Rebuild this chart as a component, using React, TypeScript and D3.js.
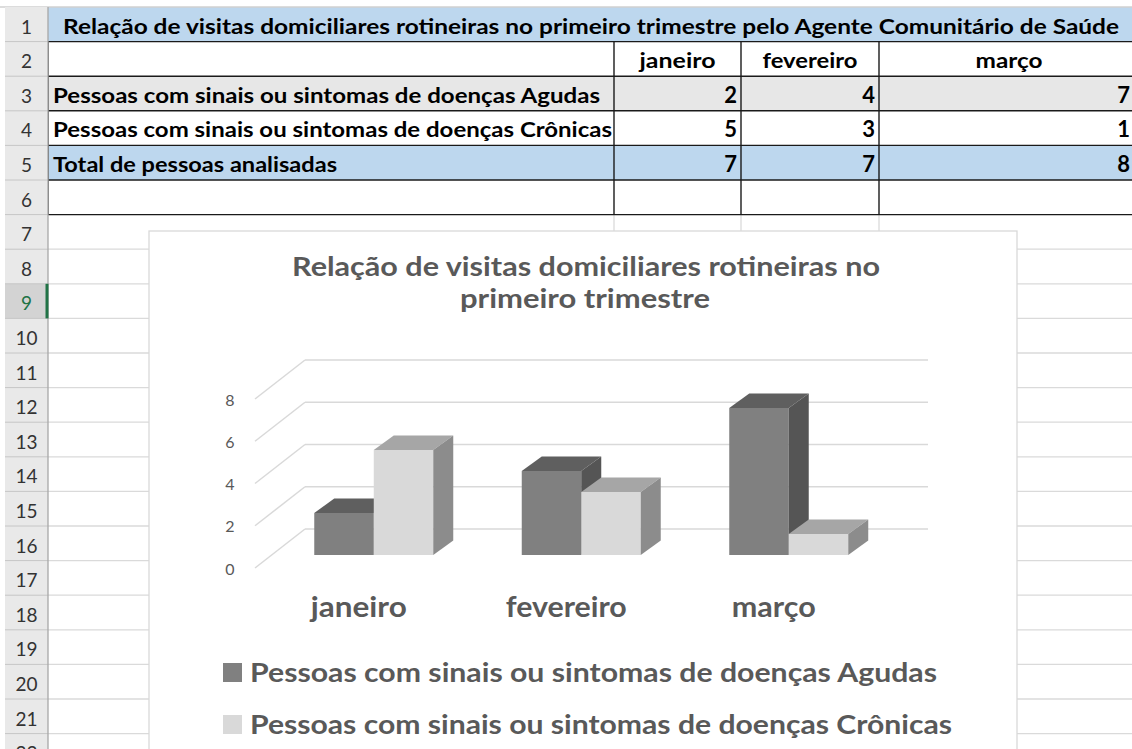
import React from 'react';
import * as d3 from 'd3';

// ---------- data ----------
const months = ['janeiro', 'fevereiro', 'março'];
const agudas = [2, 4, 7];
const cronicas = [5, 3, 1];
const totals = [7, 7, 8];
const seriesNames = [
  'Pessoas com sinais ou sintomas de doenças Agudas',
  'Pessoas com sinais ou sintomas de doenças Crônicas',
];
const rowLabels = ['Pessoas com sinais ou sintomas de doenças Agudas', 'Pessoas com sinais ou sintomas de doenças Crônicas', 'Total de pessoas analisadas'];
const sheetTitle = 'Relação de visitas domiciliares rotineiras no primeiro trimestre pelo Agente Comunitário de Saúde';
const chartTitle = ['Relação de visitas domiciliares rotineiras no', 'primeiro trimestre'];
const yTicks = [0, 2, 4, 6, 8];
const rowNumbers = d3.range(1, 23);

// ---------- styling / layout ----------
const W = 1132;
const H = 749;
const FONT = "Lato, 'Open Sans', 'Noto Sans', sans-serif";
const rowTop = 7;
const rowH = 34.6;
const headerX0 = 5;
const headerX1 = 48;
const colEdges = [48, 614, 741, 879, 1139];
const numRight = [737, 875, 1130];
const monthHeaderLen = [76, 95, 67];
const rowLabelLen = [547, 559, 284];

const chartBox = { x: 149, y: 231, w: 868 };
const seriesFront = ['#808080', '#d9d9d9'];
const seriesTop = ['#5f5f5f', '#a6a6a6'];
const seriesSide = ['#555555', '#8c8c8c'];
const legendLen = [687, 702];
const catLabelLen = [96, 121, 84];

export default function App() {
  const rowY = (i: number) => rowTop + rowH * i; // top of row i (0-based)

  // 3D chart scales
  const yBack = d3.scaleLinear().domain([0, 8]).range([529, 360]);
  const wallDepth = { dx: 50, dy: -39 }; // front edge -> back wall
  const yBar = d3.scaleLinear().domain([0, 8]).range([555, 555 - 8 * 21]);
  const barDepth = { dx: 20, dy: -14.5 };
  const xBand = d3.scaleBand<string>().domain(months).range([270, 892.5]).paddingInner(0.4265).paddingOuter(0.2133);
  const xSub = d3.scaleBand<number>().domain([0, 1]).range([0, xBand.bandwidth()]);
  const wallX0 = 305;
  const wallX1 = 928;
  const series = [agudas, cronicas];

  return (
    <svg width={W} height={H} style={{ position: 'absolute', left: 0, top: 0, background: '#fff' }} fontFamily={FONT}>
      <rect x={0} y={0} width={W} height={H} fill="#ffffff" />

      {/* sheet: row fills */}
      <rect x={headerX1} y={rowY(0)} width={W - headerX1} height={rowH} fill="#bdd7ee" />
      <rect x={headerX1} y={rowY(2)} width={W - headerX1} height={rowH} fill="#e7e7e7" />
      <rect x={headerX1} y={rowY(4)} width={W - headerX1} height={rowH} fill="#bdd7ee" />

      {/* light gridlines below the table */}
      {rowNumbers.slice(6).map((n) => (
        <line key={'g' + n} x1={headerX1} x2={W} y1={rowY(n)} y2={rowY(n)} stroke="#dadada" strokeWidth={1.3} />
      ))}
      <line x1={0} x2={W} y1={rowTop} y2={rowTop} stroke="#d0d0d0" strokeWidth={1.3} />
      {colEdges.slice(1, 4).map((x) => (
        <line key={'vg' + x} x1={x} x2={x} y1={rowY(6)} y2={chartBox.y} stroke="#dadada" strokeWidth={1.3} />
      ))}

      {/* table borders */}
      {[1, 2, 3, 4, 5, 6].map((i) => (
        <line key={'hb' + i} x1={headerX1} x2={W} y1={rowY(i)} y2={rowY(i)} stroke="#1a1a1a" strokeWidth={1.4} />
      ))}
      {colEdges.slice(0, 4).map((x) => (
        <line key={'vb' + x} x1={x} x2={x} y1={rowY(1)} y2={rowY(6)} stroke="#1a1a1a" strokeWidth={1.4} />
      ))}

      {/* table text */}
      <text x={63} y={rowY(1) - 8} fontSize={21} fontWeight={700} fill="#000" textLength={1056} lengthAdjust="spacingAndGlyphs">
        {sheetTitle}
      </text>
      {months.map((m, i) => {
        const cx = (colEdges[i + 1] + colEdges[i + 2]) / 2;
        return (
          <text key={'mh' + m} x={cx - monthHeaderLen[i] / 2} y={rowY(2) - 8} fontSize={21} fontWeight={700} fill="#000" textLength={monthHeaderLen[i]} lengthAdjust="spacingAndGlyphs">
            {m}
          </text>
        );
      })}
      {rowLabels.map((l, r) => (
        <text key={'rl' + r} x={53} y={rowY(r + 3) - 8} fontSize={21} fontWeight={700} fill="#000" textLength={rowLabelLen[r]} lengthAdjust="spacingAndGlyphs">
          {l}
        </text>
      ))}
      {[agudas, cronicas, totals].map((vals, r) =>
        vals.map((v, c) => (
          <text key={'n' + r + c} x={numRight[c]} y={rowY(r + 3) - 8} fontSize={22} fontWeight={700} fill="#000" textAnchor="end">
            {v}
          </text>
        ))
      )}

      {/* row header column */}
      <rect x={headerX0} y={rowTop} width={headerX1 - headerX0} height={H - rowTop} fill="#e9e9e9" />
      <rect x={headerX0} y={rowY(8)} width={headerX1 - headerX0} height={rowH} fill="#d3d3d3" />
      {rowNumbers.map((n) => (
        <line key={'hl' + n} x1={headerX0} x2={headerX1} y1={rowY(n)} y2={rowY(n)} stroke="#c6c6c6" strokeWidth={1} />
      ))}
      <line x1={headerX1} x2={headerX1} y1={rowTop} y2={H} stroke="#a8a8a8" strokeWidth={1.3} />
      <line x1={headerX1 - 1} x2={headerX1 - 1} y1={rowY(8)} y2={rowY(9)} stroke="#217346" strokeWidth={3} />
      {rowNumbers.map((n) => (
        <text key={'rn' + n} x={26.5} y={rowY(n) - 8} fontSize={19} textAnchor="middle" fill={n === 9 ? '#217346' : '#333'}>
          {n}
        </text>
      ))}

      {/* chart area */}
      <rect x={chartBox.x} y={chartBox.y} width={chartBox.w} height={H} fill="#ffffff" stroke="#d9d9d9" strokeWidth={1.3} />

      {/* chart title */}
      <text x={292} y={276} fontSize={26} fontWeight={700} fill="#595959" textLength={588} lengthAdjust="spacingAndGlyphs">
        {chartTitle[0]}
      </text>
      <text x={460} y={308} fontSize={26} fontWeight={700} fill="#595959" textLength={250} lengthAdjust="spacingAndGlyphs">
        {chartTitle[1]}
      </text>

      {/* walls: gridlines */}
      {yTicks.map((t) => (
        <g key={'gt' + t}>
          <line x1={wallX0} x2={wallX1} y1={yBack(t)} y2={yBack(t)} stroke="#d9d9d9" strokeWidth={1.5} />
          <line x1={wallX0 - wallDepth.dx} y1={yBack(t) - wallDepth.dy} x2={wallX0} y2={yBack(t)} stroke="#d9d9d9" strokeWidth={1.5} />
          <text x={230} y={yBack(t) - wallDepth.dy} fontSize={16} fill="#595959" textAnchor="middle" dominantBaseline="central">
            {t}
          </text>
        </g>
      ))}

      {/* 3D bars */}
      {months.map((m, i) => (
        <g key={'bar' + m}>
          {series.map((vals, s) => {
            const x0 = (xBand(m) as number) + (xSub(s) as number);
            const w = xSub.bandwidth();
            const yt = yBar(vals[i]);
            const yb = yBar(0);
            const { dx, dy } = barDepth;
            const top = [[x0, yt], [x0 + w, yt], [x0 + w + dx, yt + dy], [x0 + dx, yt + dy]];
            const side = [[x0 + w, yt], [x0 + w, yb], [x0 + w + dx, yb + dy], [x0 + w + dx, yt + dy]];
            return (
              <g key={'s' + s}>
                <rect x={x0} y={yt} width={w} height={yb - yt} fill={seriesFront[s]} />
                <polygon points={top.map((p) => p.join(',')).join(' ')} fill={seriesTop[s]} />
                <polygon points={side.map((p) => p.join(',')).join(' ')} fill={seriesSide[s]} />
              </g>
            );
          })}
        </g>
      ))}

      {/* category labels */}
      {months.map((m, i) => {
        const cx = (xBand(m) as number) + xBand.bandwidth() / 2 - 15;
        return (
          <text key={'cl' + m} x={cx - catLabelLen[i] / 2} y={617} fontSize={28} fontWeight={700} fill="#595959" textLength={catLabelLen[i]} lengthAdjust="spacingAndGlyphs">
            {m}
          </text>
        );
      })}

      {/* legend */}
      {seriesNames.map((name, s) => {
        const ly = [682, 734][s];
        return (
          <g key={'lg' + s}>
            <rect x={223} y={ly - 19} width={19} height={19} fill={seriesFront[s]} />
            <text x={250} y={ly} fontSize={27} fontWeight={700} fill="#595959" textLength={legendLen[s]} lengthAdjust="spacingAndGlyphs">
              {name}
            </text>
          </g>
        );
      })}
    </svg>
  );
}
